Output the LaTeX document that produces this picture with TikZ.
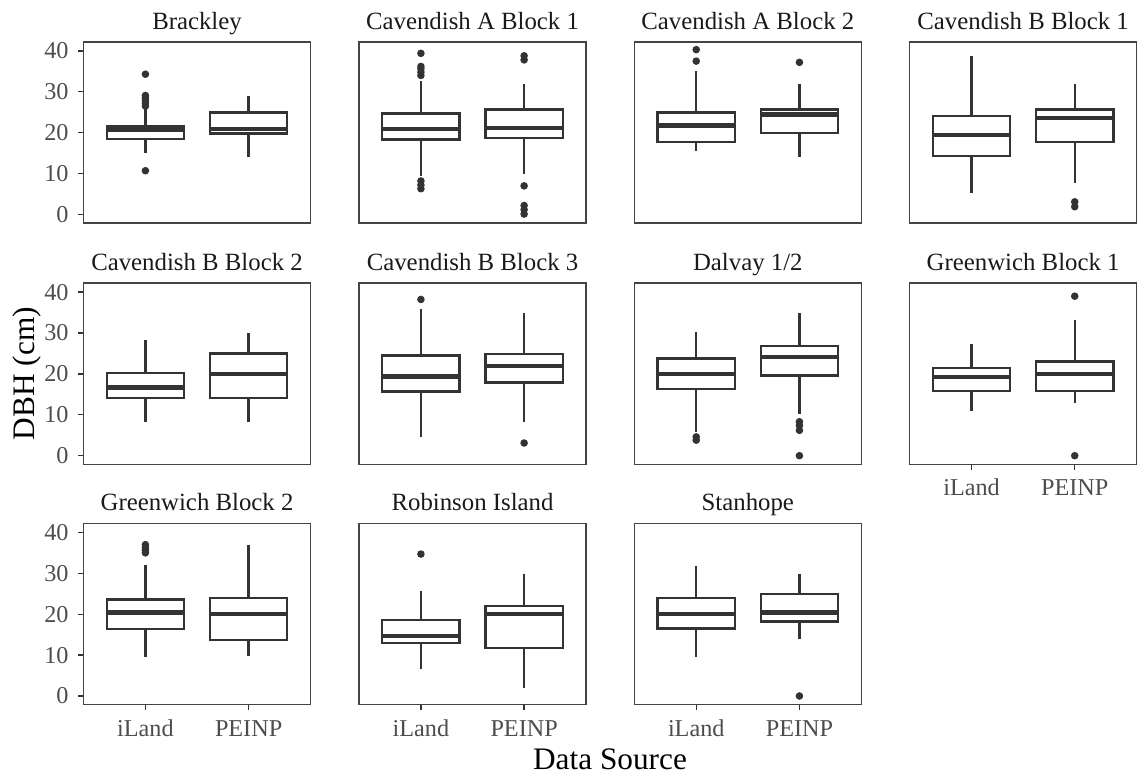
\documentclass[tikz,border=0pt]{standalone}
\usepackage{fontspec}
\setmainfont{Liberation Serif}
\definecolor{ink}{HTML}{333333}
\definecolor{striptext}{HTML}{1A1A1A}
\definecolor{ticktext}{HTML}{4D4D4D}
\definecolor{framecol}{HTML}{444444}
\tikzset{
  whisk/.style={draw=ink, line width=2.3pt},
  boxln/.style={draw=ink, fill=white, line width=2.3pt},
  medln/.style={draw=ink, line width=4.4pt},
  outlier/.style={fill=ink},
  frame/.style={draw=framecol, line width=1.4pt},
  stripstyle/.style={text=striptext, font=\fontsize{24.8}{28}\selectfont, anchor=base},
  ticklab/.style={text=ticktext, font=\fontsize{24.2}{28}\selectfont},
  axtitle/.style={text=black, font=\fontsize{31.3}{36}\selectfont, anchor=base},
  tickmark/.style={draw=ink, line width=1.3pt},
  facet/.style n args={2}{shift={(#1pt,#2pt)}, x=103.2pt, y=4.09pt},
}
% one box: position, lower whisker, Q1, median, Q3, upper whisker
\newcommand\bxp[6]{%
  \draw[whisk] (#1,#2) -- (#1,#3) (#1,#5) -- (#1,#6);
  \filldraw[boxln] (#1-0.375,#3) rectangle (#1+0.375,#5);
  \draw[medln] (#1-0.375,#4) -- (#1+0.375,#4);}
% outlying points at a position
\newcommand\outs[2]{\foreach \v in {#2}{\fill[outlier] (#1,\v) circle[radius=3.8pt];}}
% strip title above a panel
\newcommand\facetbox[2]{%
  \node[stripstyle] (#1) at (1.5,45.29) {#2};}
% panel border
\newcommand\facetframe{\draw[frame] (0.4,-2.08) rectangle (2.6,42.18);}
% left axis with ticks and labels
\newcommand\yaxis[1]{\foreach \v in {0,10,...,40}{%
  \draw[tickmark] (0.4,\v) -- ++(-5.8pt,0);
  \node[ticklab, anchor=east] (#1-\v) at ([xshift=-11.5pt]0.4,\v) {\v};}}
% bottom axis with ticks and labels
\newcommand\xaxis[1]{\foreach \p/\t in {1/iLand,2/PEINP}{%
  \draw[tickmark] (\p,-2.08) -- ++(0,-5.8pt);
  \node[ticklab, anchor=base] (#1-\p) at ([yshift=-31.5pt]\p,-2.08) {\t};}}
\begin{document}
\begin{tikzpicture}[x=1pt, y=1pt]
\useasboundingbox (0,0) rectangle (1139,778);

% ---------- row 1 ----------
\begin{scope}[facet={42.22}{563.5}]
  \facetbox{brackley}{Brackley}
  \yaxis{ya}
  \bxp{1}{15.1}{18.5}{20.7}{21.5}{26.0}
  \outs{1}{10.7,26.5,27.2,27.9,28.5,29.1,34.3}
  \bxp{2}{14.1}{19.8}{20.9}{24.9}{28.9}
  \facetframe
\end{scope}

\begin{scope}[facet={317.72}{563.5}]
  \facetbox{cava1}{Cavendish A Block 1}
  \bxp{1}{9.4}{18.3}{20.9}{24.7}{32.6}
  \outs{1}{6.3,7.2,8.2,34.0,34.8,35.6,36.2,39.4}
  \bxp{2}{10.0}{18.7}{21.2}{25.7}{32.0}
  \outs{2}{0.1,1.2,2.2,7.0,37.8,38.8}
  \facetframe
\end{scope}

\begin{scope}[facet={593.02}{563.5}]
  \facetbox{cava2}{Cavendish A Block 2}
  \bxp{1}{15.5}{17.8}{21.8}{24.9}{35.0}
  \outs{1}{37.5,40.3}
  \bxp{2}{14.1}{20.0}{24.4}{25.7}{32.0}
  \outs{2}{37.2}
  \facetframe
\end{scope}

\begin{scope}[facet={868.32}{563.5}]
  \facetbox{cavb1}{Cavendish B Block 1}
  \bxp{1}{5.3}{14.3}{19.4}{24.1}{38.7}
  \bxp{2}{7.8}{17.8}{23.6}{25.7}{32.0}
  \outs{2}{1.9,3.1}
  \facetframe
\end{scope}

% ---------- row 2 ----------
\begin{scope}[facet={42.22}{322.3}]
  \facetbox{cavb2}{Cavendish B Block 2}
  \yaxis{yb}
  \bxp{1}{8.2}{14.1}{16.7}{20.2}{28.3}
  \bxp{2}{8.2}{14.1}{20.0}{25.0}{29.9}
  \facetframe
\end{scope}

\begin{scope}[facet={317.72}{322.3}]
  \facetbox{cavb3}{Cavendish B Block 3}
  \bxp{1}{4.6}{15.7}{19.4}{24.5}{35.9}
  \outs{1}{38.2}
  \bxp{2}{8.2}{17.9}{22.0}{24.9}{35.0}
  \outs{2}{3.1}
  \facetframe
\end{scope}

\begin{scope}[facet={593.02}{322.3}]
  \facetbox{dalvay}{Dalvay 1/2}
  \bxp{1}{5.7}{16.3}{20.0}{23.8}{30.3}
  \outs{1}{3.8,4.6}
  \bxp{2}{10.2}{19.6}{24.2}{26.9}{35.0}
  \outs{2}{0,6.2,7.4,8.3}
  \facetframe
\end{scope}

\begin{scope}[facet={868.32}{322.3}]
  \facetbox{green1}{Greenwich Block 1}
  \bxp{1}{11.0}{15.9}{19.3}{21.4}{27.2}
  \bxp{2}{13.0}{15.9}{20.0}{23.0}{33.2}
  \outs{2}{0,39.0}
  \xaxis{xa}
  \facetframe
\end{scope}

% ---------- row 3 ----------
\begin{scope}[facet={42.22}{82.0}]
  \facetbox{green2}{Greenwich Block 2}
  \yaxis{yc}
  \bxp{1}{9.6}{16.3}{20.4}{23.6}{32.0}
  \outs{1}{35.0,35.7,36.3,37.0}
  \bxp{2}{9.9}{13.7}{20.0}{24.0}{36.8}
  \xaxis{xb}
  \facetframe
\end{scope}

\begin{scope}[facet={317.72}{82.0}]
  \facetbox{robinson}{Robinson Island}
  \bxp{1}{6.5}{12.9}{14.7}{18.6}{25.7}
  \outs{1}{34.7}
  \bxp{2}{2.0}{11.8}{20.0}{22.0}{29.8}
  \xaxis{xc}
  \facetframe
\end{scope}

\begin{scope}[facet={593.02}{82.0}]
  \facetbox{stanhope}{Stanhope}
  \bxp{1}{9.6}{16.5}{20.0}{24.0}{31.8}
  \bxp{2}{13.9}{18.2}{20.4}{24.9}{29.8}
  \outs{2}{0}
  \xaxis{xd}
  \facetframe
\end{scope}

% axis titles
\node[axtitle] (xtitle) at (610,8) {Data Source};
\node[axtitle, rotate=90] (ytitle) at (35,404.3) {DBH (cm)};
\end{tikzpicture}
\end{document}
